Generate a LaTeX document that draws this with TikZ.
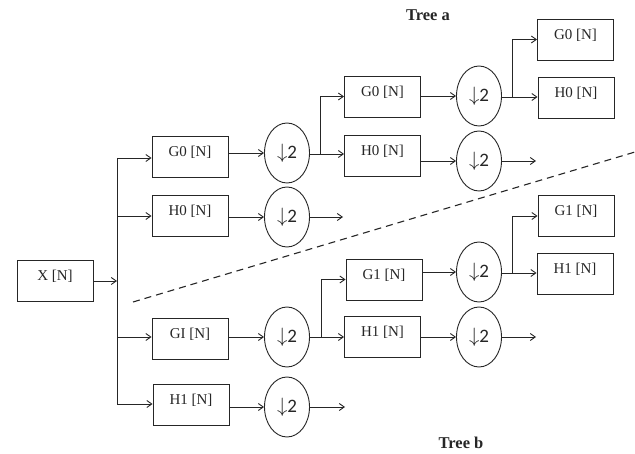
\documentclass[tikz,border=0pt]{standalone}
\usepackage{fontspec}
\setmainfont{Liberation Serif}
\newfontfamily\digitfont{Carlito}
\usetikzlibrary{arrows.meta,shapes.geometric}

\begin{document}
\begin{tikzpicture}[x=1pt,y=-1pt,
  line width=0.9pt,
  color=black!85,
  filt/.style={draw, rectangle, minimum width=76pt, minimum height=41pt,
    inner sep=0pt, text height=11pt, text depth=11pt, font=\fontsize{15}{15}\selectfont},
  dec/.style={draw, ellipse, minimum width=45pt, minimum height=60pt, inner sep=0pt},
  arr/.style={-{Straight Barb[length=5pt,width=7pt,line width=0.9pt]}},
  title/.style={font=\fontsize{16.5}{16.5}\selectfont\bfseries}
]
\useasboundingbox (0,0) rectangle (635,454);

\newcommand{\dn}{{\fontsize{21}{21}\selectfont$\downarrow$\digitfont\fontsize{19}{19}\selectfont 2}}

% input
\node[filt] (x) at (55,281) {X [N]};

% first stage
\node[filt] (g0a) at (190,157) {G0 [N]};
\node[filt] (h0a) at (190,216) {H0 [N]};
\node[filt] (g1a) at (190,339) {GI [N]};
\node[filt] (h1a) at (191,405) {H1 [N]};
\node[dec] (d1) at (287,153) {\dn};
\node[dec] (d2) at (287,217) {\dn};
\node[dec] (d3) at (287,337) {\dn};
\node[dec] (d4) at (287,407) {\dn};

% second stage, tree a
\node[filt] (g0b) at (382.5,96.5) {G0 [N]};
\node[filt] (h0b) at (382.5,156) {H0 [N]};
\node[dec] (d5) at (479,96) {\dn};
\node[dec] (d6) at (479,161) {\dn};

% second stage, tree b
\node[filt] (g1b) at (384,279.5) {G1 [N]};
\node[filt] (h1b) at (382.5,336.5) {H1 [N]};
\node[dec] (d7) at (479,272) {\dn};
\node[dec] (d8) at (479,337) {\dn};

% third stage
\node[filt] (g0c) at (575.5,39.5) {G0 [N]};
\node[filt] (h0c) at (576,97.5) {H0 [N]};
\node[filt] (g1c) at (576,216) {G1 [N]};
\node[filt] (h1c) at (575,273.5) {H1 [N]};

% tree labels
\node[title] (ta) at (428,15) {Tree a};
\node[title] (tb) at (461,443) {Tree b};

% branch points and open outputs
\coordinate (t0) at (117,281);
\coordinate (t1) at (117,158);
\coordinate (t2) at (117,216);
\coordinate (t3) at (117,337);
\coordinate (t4) at (117,404);
\coordinate (ba) at (320,154);
\coordinate (bb) at (321,337);
\coordinate (ca) at (512,97);
\coordinate (cb) at (512,273);
\coordinate (o1) at (343,217);
\coordinate (o2) at (345,407);
\coordinate (o3) at (536,161);
\coordinate (o4) at (536,337);

% input splitting
\draw[arr] (x.east |- t0) -- (t0);
\draw (t1) -- (t4);
\draw[arr] (t1) -- (t1 -| g0a.west);
\draw[arr] (t2) -- (t2 -| h0a.west);
\draw[arr] (t3) -- (t3 -| g1a.west);
\draw[arr] (t4) -- (t4 -| h1a.west);

% first stage into decimators
\draw[arr] (g0a.east |- d1) -- (d1.west);
\draw[arr] (h0a.east |- d2) -- (d2.west);
\draw[arr] (g1a.east |- d3) -- (d3.west);
\draw[arr] (h1a.east |- d4) -- (d4.west);
\draw[arr] (d2.east) -- (o1);
\draw[arr] (d4.east) -- (o2);

% tree a, second stage
\draw (d1.east |- ba) -- (ba);
\draw (ba) -- (ba |- g0b.west);
\draw[arr] (ba |- g0b.west) -- (g0b.west);
\draw[arr] (ba) -- (ba -| h0b.west);
\draw[arr] (g0b.east |- d5) -- (d5.west);
\draw[arr] (h0b.east |- d6) -- (d6.west);
\draw[arr] (d6.east) -- (o3);
\draw (d5.east |- ca) -- (ca);
\draw (ca) -- (ca |- g0c.west);
\draw[arr] (ca |- g0c.west) -- (g0c.west);
\draw[arr] (ca) -- (ca -| h0c.west);

% tree b, second stage
\draw (d3.east |- bb) -- (bb);
\draw (bb) -- (bb |- g1b.west);
\draw[arr] (bb |- g1b.west) -- (g1b.west);
\draw[arr] (bb) -- (bb -| h1b.west);
\draw[arr] (g1b.east |- d7) -- (d7.west);
\draw[arr] (h1b.east |- d8) -- (d8.west);
\draw[arr] (d8.east) -- (o4);
\draw (d7.east |- cb) -- (cb);
\draw (cb) -- (cb |- g1c.west);
\draw[arr] (cb |- g1c.west) -- (g1c.west);
\draw[arr] (cb) -- (cb -| h1c.west);

% separator between the two trees
\coordinate (s0) at (133,302);
\coordinate (s1) at (635,152);
\draw[dashed, dash pattern=on 7pt off 5pt, line width=1.1pt] (s0) -- (s1);
\end{tikzpicture}
\end{document}
